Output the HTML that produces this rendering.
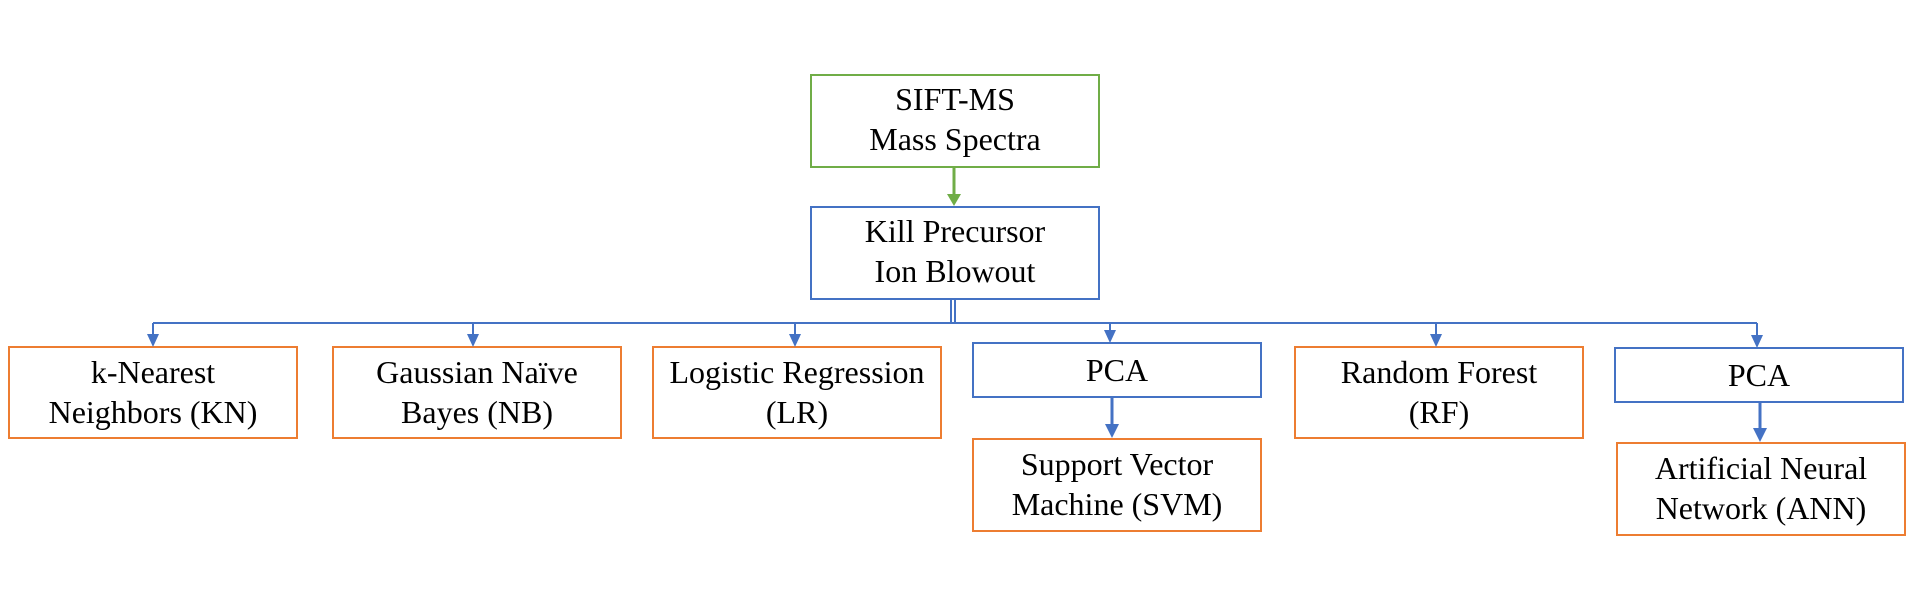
<!DOCTYPE html>
<html><head><meta charset="utf-8"><style>
html,body{margin:0;padding:0;background:#fff;}
svg{display:block;}
text{font-family:"Liberation Serif","Times New Roman",serif;font-size:32px;fill:#000;text-anchor:middle;}
</style></head><body>
<svg width="1916" height="596" viewBox="0 0 1916 596" xmlns="http://www.w3.org/2000/svg">
<g fill="none" stroke-width="2">
<rect x="811" y="75" width="288" height="92" stroke="#70AD47"/>
<rect x="811" y="207" width="288" height="92" stroke="#4472C4"/>
<rect x="9" y="347" width="288" height="91" stroke="#ED7D31"/>
<rect x="333" y="347" width="288" height="91" stroke="#ED7D31"/>
<rect x="653" y="347" width="288" height="91" stroke="#ED7D31"/>
<rect x="973" y="343" width="288" height="54" stroke="#4472C4"/>
<rect x="973" y="439" width="288" height="92" stroke="#ED7D31"/>
<rect x="1295" y="347" width="288" height="91" stroke="#ED7D31"/>
<rect x="1615" y="348" width="288" height="54" stroke="#4472C4"/>
<rect x="1617" y="443" width="288" height="92" stroke="#ED7D31"/>
</g>
<line x1="954" y1="167" x2="954" y2="196" stroke="#70AD47" stroke-width="3"/>
<path d="M947,194 L961,194 L954,206 z" fill="#70AD47"/>
<line x1="951" y1="299" x2="951" y2="323" stroke="#4472C4" stroke-width="2"/>
<line x1="955" y1="299" x2="955" y2="323" stroke="#4472C4" stroke-width="2"/>
<line x1="153" y1="323" x2="1757" y2="323" stroke="#4472C4" stroke-width="2"/>
<g stroke="#4472C4" stroke-width="2">
<line x1="153" y1="323" x2="153" y2="336"/>
<line x1="473" y1="323" x2="473" y2="336"/>
<line x1="795" y1="323" x2="795" y2="336"/>
<line x1="1110" y1="323" x2="1110" y2="332"/>
<line x1="1436" y1="323" x2="1436" y2="336"/>
<line x1="1757" y1="323" x2="1757" y2="337"/>
</g>
<g fill="#4472C4">
<path d="M147,334 L159,334 L153,347 z"/>
<path d="M467,334 L479,334 L473,347 z"/>
<path d="M789,334 L801,334 L795,347 z"/>
<path d="M1104,330 L1116,330 L1110,343 z"/>
<path d="M1430,334 L1442,334 L1436,347 z"/>
<path d="M1751,335 L1763,335 L1757,348 z"/>
</g>
<line x1="1112" y1="397" x2="1112" y2="426" stroke="#4472C4" stroke-width="3"/>
<path d="M1105,424 L1119,424 L1112,438 z" fill="#4472C4"/>
<line x1="1760" y1="402" x2="1760" y2="430" stroke="#4472C4" stroke-width="3"/>
<path d="M1753,428 L1767,428 L1760,442 z" fill="#4472C4"/>
<text x="955" y="110">SIFT-MS</text>
<text x="955" y="150">Mass Spectra</text>
<text x="955" y="242">Kill Precursor</text>
<text x="955" y="282">Ion Blowout</text>
<text x="153" y="383">k-Nearest</text>
<text x="153" y="423">Neighbors (KN)</text>
<text x="477" y="383">Gaussian Naïve</text>
<text x="477" y="423">Bayes (NB)</text>
<text x="797" y="383">Logistic Regression</text>
<text x="797" y="423">(LR)</text>
<text x="1117" y="381">PCA</text>
<text x="1117" y="475">Support Vector</text>
<text x="1117" y="515">Machine (SVM)</text>
<text x="1439" y="383">Random Forest</text>
<text x="1439" y="423">(RF)</text>
<text x="1759" y="386">PCA</text>
<text x="1761" y="479">Artificial Neural</text>
<text x="1761" y="519">Network (ANN)</text>
</svg>
</body></html>
